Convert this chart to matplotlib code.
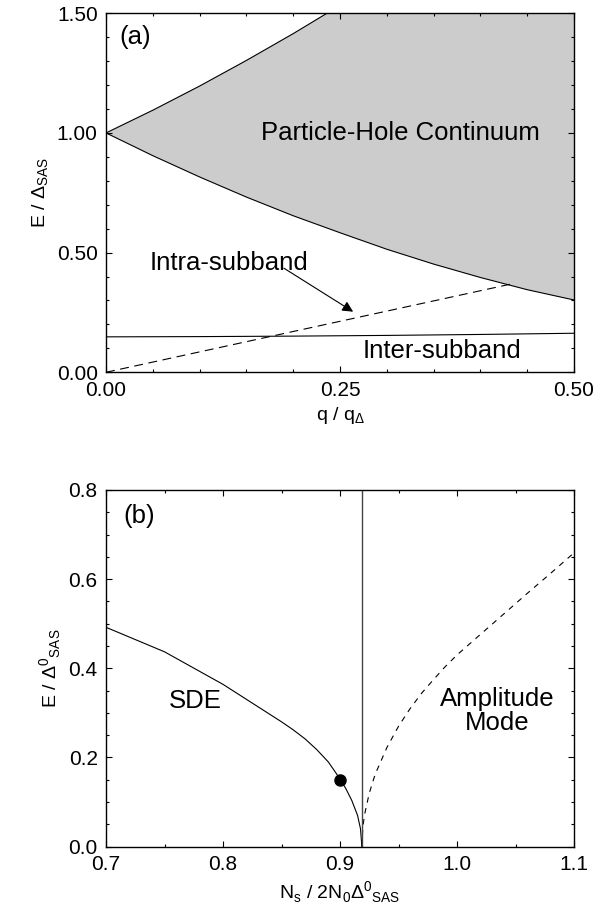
import matplotlib
matplotlib.use('Agg')
import matplotlib.pyplot as plt
import numpy as np
from matplotlib.ticker import MultipleLocator, FormatStrFormatter

plt.rcParams['font.family'] = ['Liberation Sans', 'DejaVu Sans']
plt.rcParams['mathtext.fontset'] = 'custom'
plt.rcParams['mathtext.rm'] = 'Liberation Sans'

# panel (a): particle-hole continuum boundaries
upper_q = [0.0, 0.05, 0.10, 0.15, 0.20, 0.236]
upper_E = [1.0, 1.095, 1.196, 1.303, 1.415, 1.50]
lower_q = [0.0, 0.05, 0.10, 0.15, 0.20, 0.25, 0.30, 0.35, 0.40, 0.45, 0.50]
lower_E = [1.0, 0.905, 0.816, 0.732, 0.654, 0.583, 0.514, 0.452, 0.396, 0.345, 0.302]
# intra-subband (dashed) and inter-subband (solid) modes
intra_q = [0.0, 0.432]
intra_E = [0.0, 0.368]
inter_q = [0.0, 0.1, 0.2, 0.3, 0.4, 0.5]
inter_E = [0.148, 0.149, 0.151, 0.154, 0.158, 0.163]

# panel (b)
sde_N = [0.70, 0.75, 0.80, 0.85, 0.86, 0.87, 0.88, 0.89, 0.90, 0.905, 0.91,
         0.915, 0.9175, 0.9187]
sde_E = [0.492, 0.437, 0.364, 0.280, 0.262, 0.242, 0.218, 0.190, 0.152, 0.130,
         0.104, 0.070, 0.040, 0.0]
amp_N = [0.9187, 0.9195, 0.921, 0.925, 0.93, 0.94, 0.95, 0.96, 0.97, 0.98,
         0.99, 1.0, 1.02, 1.04, 1.06, 1.08, 1.1]
amp_E = [0.0, 0.044, 0.072, 0.120, 0.162, 0.222, 0.270, 0.310, 0.345, 0.375,
         0.404, 0.430, 0.476, 0.522, 0.568, 0.613, 0.659]
Nc = 0.9187
dot_N, dot_E = 0.90, 0.150

fig = plt.figure(figsize=(6, 9.16), dpi=100)
ax1 = fig.add_axes([0.1767, 0.5936, 0.78, 0.3919])
ax2 = fig.add_axes([0.1767, 0.0757, 0.78, 0.3894])

tick_kw = dict(direction='in', top=True, right=True, labelsize=15)
for ax in (ax1, ax2):
    ax.tick_params(which='major', length=4.5, width=0.8, pad=6, **tick_kw)
    ax.tick_params(which='minor', length=2.5, width=0.8, **tick_kw)
    for s in ax.spines.values():
        s.set_linewidth(1.0)

# ---- (a)
poly_q = upper_q + [0.5] + lower_q[::-1]
poly_E = upper_E + [1.5] + lower_E[::-1]
ax1.fill(poly_q, poly_E, color='#cccccc', lw=0)
ax1.plot(upper_q, upper_E, color='k', lw=0.8)
ax1.plot(lower_q, lower_E, color='k', lw=0.8)
ax1.plot(intra_q, intra_E, color='k', lw=0.8, dashes=(8, 5))
ax1.plot(inter_q, inter_E, color='k', lw=0.8)
ax1.set_xlim(0, 0.5)
ax1.set_ylim(0, 1.5)
ax1.xaxis.set_major_locator(MultipleLocator(0.25))
ax1.xaxis.set_minor_locator(MultipleLocator(0.05))
ax1.yaxis.set_major_locator(MultipleLocator(0.5))
ax1.yaxis.set_minor_locator(MultipleLocator(0.1))
ax1.xaxis.set_major_formatter(FormatStrFormatter('%.2f'))
ax1.yaxis.set_major_formatter(FormatStrFormatter('%.2f'))
ax1.set_xlabel(r'q / q$_{\mathregular{\Delta}}$', fontsize=14)
ax1.set_ylabel(r'E / $\mathregular{\Delta}_{\mathregular{SAS}}$', fontsize=14)

ax1.text(0.031, 1.40, '(a)', fontsize=18.5, ha='center', va='center')
ax1.text(0.166, 1.0, 'Particle-Hole Continuum', fontsize=18.5, va='center')
ax1.text(0.047, 0.4275, 'Intra-subband', fontsize=18.5, va='baseline')
ax1.text(0.274, 0.0875, 'Inter-subband', fontsize=18.5, va='center')
ax1.annotate('', xy=(0.264, 0.253), xytext=(0.19, 0.435),
             arrowprops=dict(arrowstyle='-|>', color='k', lw=0.8,
                             mutation_scale=16, shrinkA=0, shrinkB=0))

# ---- (b)
ax2.plot(sde_N, sde_E, color='k', lw=0.8)
ax2.plot(amp_N, amp_E, color='k', lw=0.8, dashes=(5, 5))
ax2.axvline(Nc, color='#444444', lw=1.0)
ax2.plot([dot_N], [dot_E], 'o', color='k', ms=8)
ax2.set_xlim(0.7, 1.1)
ax2.set_ylim(0, 0.8)
ax2.xaxis.set_major_locator(MultipleLocator(0.1))
ax2.xaxis.set_minor_locator(MultipleLocator(0.05))
ax2.yaxis.set_major_locator(MultipleLocator(0.2))
ax2.yaxis.set_minor_locator(MultipleLocator(0.05))
ax2.xaxis.set_major_formatter(FormatStrFormatter('%.1f'))
ax2.yaxis.set_major_formatter(FormatStrFormatter('%.1f'))
ax2.set_xlabel(r'N$_{\mathregular{s}}$ / 2N$_{\mathregular{0}}$$\mathregular{\Delta}^{\mathregular{0}}{}_{\mathregular{SAS}}$', fontsize=14)
ax2.set_ylabel(r'E / $\mathregular{\Delta}^{\mathregular{0}}{}_{\mathregular{SAS}}$', fontsize=14)

ax2.text(0.728, 0.742, '(b)', fontsize=18.5, ha='center', va='center')
ax2.text(0.776, 0.327, 'SDE', fontsize=18.5, ha='center', va='center')
ax2.text(1.034, 0.305, 'Amplitude\nMode', fontsize=18.5, ha='center', va='center',
         linespacing=1.0)

fig.savefig('out.png', dpi=100)
